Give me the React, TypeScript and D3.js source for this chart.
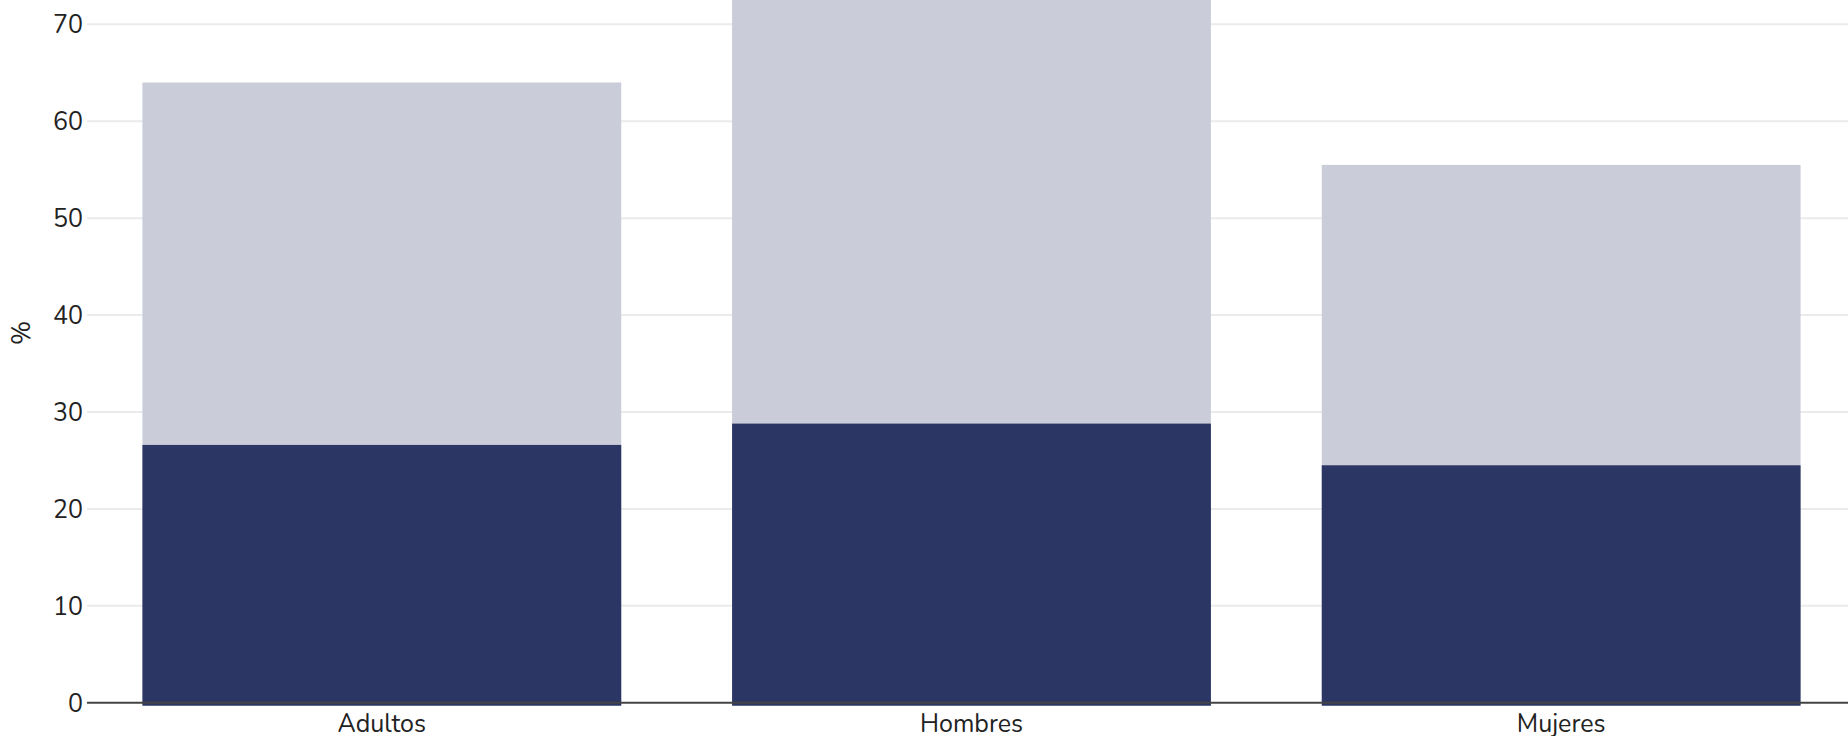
import React, { useEffect, useRef } from "react";
import * as d3 from "d3";

const categories = ["Adultos", "Hombres", "Mujeres"];
const totalValues = [64.0, 72.6, 55.5];
const darkValues = [26.6, 28.8, 24.5];
const yTicks = [0, 10, 20, 30, 40, 50, 60, 70];

const W = 1848;
const H = 736;

const App = () => {
  const ref = useRef<SVGSVGElement | null>(null);

  useEffect(() => {
    if (!ref.current) return;
    const svg = d3.select(ref.current);
    svg.selectAll("*").remove();

    // plot area extends a bit past the visible frame (cropped chart)
    const left = 87;
    const right = 1856;
    const top = -36.7;
    const bottom = 702.7;
    const font = "Nunito, Lato, 'Noto Sans', sans-serif";

    const x = d3
      .scaleBand()
      .domain(categories)
      .range([left, right])
      .paddingInner(0.188)
      .paddingOuter(0.094);

    const y = d3.scaleLinear().domain([0, 76.3]).range([bottom, top]);

    const g = svg.append("g");

    // grid
    g.selectAll(".grid")
      .data(yTicks.filter((d) => d !== 0))
      .enter()
      .append("line")
      .attr("x1", left)
      .attr("x2", W)
      .attr("y1", (d) => y(d))
      .attr("y2", (d) => y(d))
      .attr("stroke", "#ebebeb")
      .attr("stroke-width", 2);

    // light bars (totals)
    g.selectAll(".total")
      .data(categories)
      .enter()
      .append("rect")
      .attr("x", (d) => x(d)!)
      .attr("width", x.bandwidth())
      .attr("y", (_, i) => y(totalValues[i]))
      .attr("height", (_, i) => bottom - y(totalValues[i]) + 3)
      .attr("fill", "#cacdd9");

    // dark bars
    g.selectAll(".dark")
      .data(categories)
      .enter()
      .append("rect")
      .attr("x", (d) => x(d)!)
      .attr("width", x.bandwidth())
      .attr("y", (_, i) => y(darkValues[i]))
      .attr("height", (_, i) => bottom - y(darkValues[i]) + 3)
      .attr("fill", "#2b3664");

    // zero line
    g.append("line")
      .attr("x1", left)
      .attr("x2", W)
      .attr("y1", y(0))
      .attr("y2", y(0))
      .attr("stroke", "#444")
      .attr("stroke-width", 2);

    // y tick labels
    g.selectAll(".ytick")
      .data(yTicks)
      .enter()
      .append("text")
      .attr("x", left - 4)
      .attr("y", (d) => y(d))
      .attr("dy", "0.36em")
      .attr("text-anchor", "end")
      .attr("font-family", font)
      .attr("font-size", 25)
      .attr("fill", "#222")
      .text((d) => d);

    // x tick labels
    g.selectAll(".xtick")
      .data(categories)
      .enter()
      .append("text")
      .attr("x", (d) => x(d)! + x.bandwidth() / 2)
      .attr("y", 732)
      .attr("text-anchor", "middle")
      .attr("font-family", font)
      .attr("font-size", 25)
      .attr("fill", "#222")
      .text((d) => d);

    // y axis title
    g.append("text")
      .attr("transform", `translate(30, ${(top + bottom) / 2}) rotate(-90)`)
      .attr("text-anchor", "middle")
      .attr("font-family", font)
      .attr("font-size", 26)
      .attr("fill", "#222")
      .text("%");
  }, []);

  return (
    <svg
      ref={ref}
      width={W}
      height={H}
      style={{ position: "absolute", left: 0, top: 0, background: "#fff" }}
    ></svg>
  );
};

export default App;
